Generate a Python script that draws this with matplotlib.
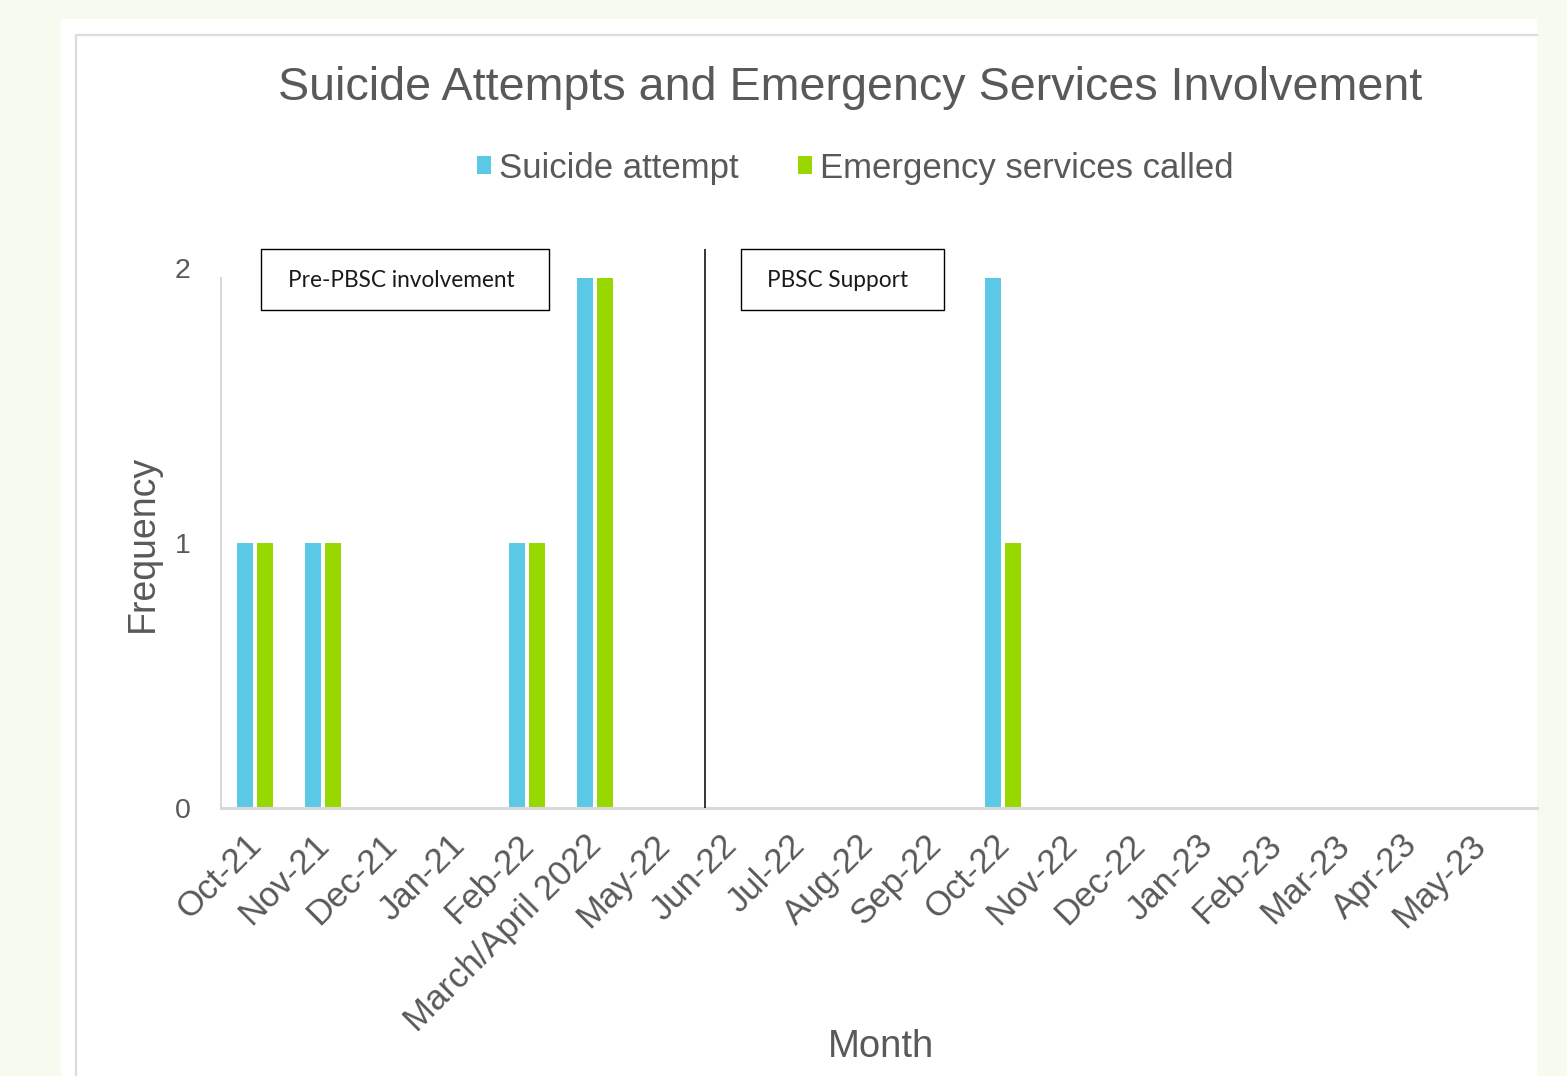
import matplotlib
matplotlib.use("Agg")
import matplotlib.pyplot as plt
from matplotlib.patches import Rectangle
from matplotlib.lines import Line2D
from matplotlib.transforms import ScaledTranslation
import numpy as np

categories = ['Oct-21', 'Nov-21', 'Dec-21', 'Jan-21', 'Feb-22', 'March/April 2022',
              'May-22', 'Jun-22', 'Jul-22', 'Aug-22', 'Sep-22', 'Oct-22', 'Nov-22',
              'Dec-22', 'Jan-23', 'Feb-23', 'Mar-23', 'Apr-23', 'May-23']
suicide_attempt = [1, 1, 0, 0, 1, 2, 0, 0, 0, 0, 0, 2, 0, 0, 0, 0, 0, 0, 0]
emergency_called = [1, 1, 0, 0, 1, 2, 0, 0, 0, 0, 0, 1, 0, 0, 0, 0, 0, 0, 0]
series_labels = ['Suicide attempt', 'Emergency services called']
yticks = [0, 1, 2]
title = 'Suicide Attempts and Emergency Services Involvement'

BLUE = '#5bc9e6'
GREEN = '#99d700'
TXT = '#595959'
GRID = '#d9d9d9'

W, H = 1567, 1076
DPI = 100
plt.rcParams['font.family'] = ['Liberation Sans', 'DejaVu Sans']

fig = plt.figure(figsize=(W / DPI, H / DPI), dpi=DPI, facecolor='#f7faee')

def fx(x):
    return x / W

def fy(y):
    return 1 - y / H

# white panel and its inner border
fig.patches.append(Rectangle((fx(61), 0), fx(1537) - fx(61), fy(19), transform=fig.transFigure,
                             facecolor='white', edgecolor='none', zorder=-10))
fig.lines.append(Line2D([fx(76), fx(76), fx(1537)], [0, fy(35), fy(35)], transform=fig.transFigure,
                        color='#dcdcdc', lw=1.6, zorder=-5))

ax = fig.add_axes([fx(221), fy(808), fx(1537) - fx(221), fy(278) - fy(808)])
ax.set_facecolor('none')

x = np.arange(len(categories))
step = 68.0
off = 10.0 / step
bw = 15.4 / step
b1 = ax.bar(x - off, suicide_attempt, bw, color=BLUE, label=series_labels[0], zorder=3)
b2 = ax.bar(x + off, emergency_called, bw, color=GREEN, label=series_labels[1], zorder=3)

ax.set_xlim(-0.5, (1537 - 255) / step)
ax.set_ylim(0, 2)
ax.set_yticks(yticks)
ax.set_yticklabels([str(v) for v in yticks])
ax.set_xticks(x)
ax.set_xticklabels(categories, rotation=45, ha='right', va='center', rotation_mode='anchor')

for s in ['top', 'right']:
    ax.spines[s].set_visible(False)
ax.spines['left'].set_color(GRID)
ax.spines['left'].set_linewidth(1.5)
ax.spines['bottom'].set_color(GRID)
ax.spines['bottom'].set_linewidth(2.2)
ax.spines['bottom'].set_zorder(4)

ax.tick_params(axis='both', length=0, colors=TXT)
ax.tick_params(axis='y', labelsize=20.5, pad=22)
ax.tick_params(axis='x', labelsize=25, pad=23)

for lab in ax.get_xticklabels():
    lab.set_transform(lab.get_transform() + ScaledTranslation(1 / DPI, 0, fig.dpi_scale_trans))
ylabs = ax.get_yticklabels()
ylabs[-1].set_transform(ylabs[-1].get_transform() + ScaledTranslation(0, 10 / DPI, fig.dpi_scale_trans))

ax.set_ylabel('Frequency', fontsize=27, color=TXT, va='center')
ax.yaxis.set_label_coords((143 - 221) / 1316, 0.5)
ax.set_xlabel('Month', fontsize=27.5, color=TXT, va='center')
ax.xaxis.set_label_coords((881 - 221) / 1316, (808 - 1047) / 530)

fig.text(fx(850), fy(100), title, ha='center', va='baseline', fontsize=33.6, color=TXT)

fig.legend(handles=[b1, b2], labels=series_labels, loc='center', bbox_to_anchor=(fx(855), fy(168)),
           ncol=2, frameon=False, fontsize=25, labelcolor=TXT, handlelength=0.42, handleheight=0.42,
           handletextpad=0.22, columnspacing=1.7, borderpad=0)

# phase divider and annotation boxes
ax.vlines([(705 - 255) / step], 0, (808 - 249) / 265, colors='black', lw=1.1, clip_on=False, zorder=5)
for (x0, x1, txt, tcx) in [(261, 549, 'Pre-PBSC involvement', 401), (741, 944, 'PBSC Support', 838)]:
    fig.patches.append(Rectangle((fx(x0), fy(310)), fx(x1) - fx(x0), fy(249) - fy(310),
                                 transform=fig.transFigure, facecolor='white', edgecolor='black',
                                 lw=1.0, zorder=6))
    fig.text(fx(tcx), fy(281), txt, ha='center', va='center', fontsize=16.3, color='#1a1a1a',
             family=['Lato', 'DejaVu Sans'], zorder=7)

fig.savefig('out.png', dpi=DPI, facecolor=fig.get_facecolor())
